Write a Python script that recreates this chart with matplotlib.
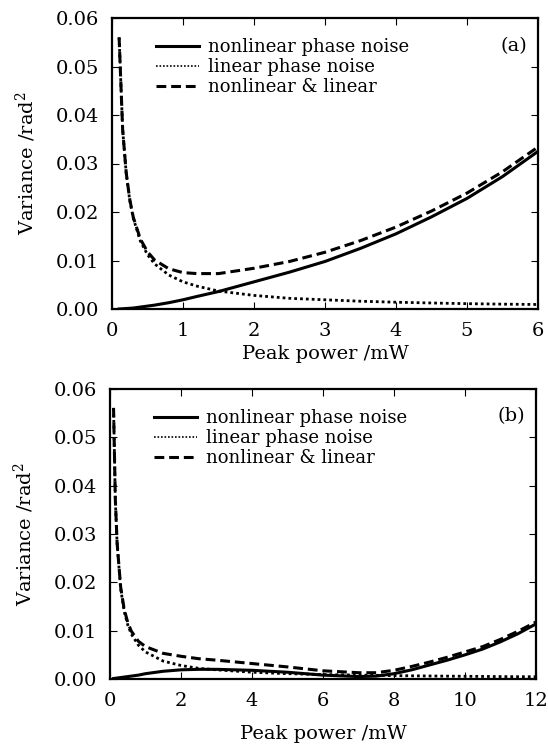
import matplotlib
matplotlib.use("Agg")
import matplotlib.pyplot as plt

plt.rcParams['font.family'] = ['DejaVu Serif']
plt.rcParams['mathtext.fontset'] = 'dejavuserif'

# ---- panel (a) data ----
x_a = [0.1, 0.15, 0.2, 0.25, 0.3, 0.4, 0.5, 0.6, 0.8, 1.0, 1.2, 1.5, 2.0, 2.5, 3.0,
       3.5, 4.0, 4.5, 5.0, 5.5, 6.0]
nonlin_a = [0.0, 0.00005, 0.0001, 0.00015, 0.0002, 0.0004, 0.0006, 0.0008, 0.0013,
            0.0019, 0.0026, 0.0036, 0.0056, 0.0076, 0.0098, 0.0125, 0.0155, 0.0190,
            0.0228, 0.0273, 0.0325]
lin_a = [0.056, 0.037, 0.028, 0.0224, 0.0187, 0.014, 0.0112, 0.0093, 0.007, 0.0056,
         0.0047, 0.0037, 0.0028, 0.0022, 0.0019, 0.0016, 0.0014, 0.00124, 0.0011,
         0.001, 0.00093]
both_a = [0.056, 0.037, 0.0281, 0.0226, 0.0189, 0.0144, 0.0118, 0.0101, 0.0083,
          0.0075, 0.0073, 0.0073, 0.0084, 0.0098, 0.0117, 0.0141, 0.0169, 0.0202,
          0.0239, 0.0283, 0.0334]

# ---- panel (b) data ----
x_b = [0.1, 0.15, 0.2, 0.3, 0.4, 0.5, 0.6, 0.8, 1.0, 1.5, 2.0, 2.5, 3.0, 4.0, 5.0,
       6.0, 7.0, 7.5, 8.0, 8.5, 9.0, 9.5, 10.0, 10.5, 11.0, 11.5, 12.0]
nonlin_b = [0.0001, 0.00015, 0.0002, 0.0003, 0.0004, 0.0005, 0.0006, 0.0008, 0.0011,
            0.0016, 0.0019, 0.0020, 0.0020, 0.0018, 0.0014, 0.0008, 0.0005, 0.0006,
            0.0011, 0.0019, 0.0029, 0.0039, 0.0050, 0.0062, 0.0077, 0.0094, 0.0114]
lin_b = [0.056, 0.037, 0.028, 0.0187, 0.014, 0.0112, 0.0093, 0.007, 0.0056, 0.0037,
         0.0028, 0.0022, 0.0019, 0.0014, 0.0011, 0.00093, 0.0008, 0.00075, 0.0007,
         0.00066, 0.00062, 0.00059, 0.00056, 0.00053, 0.0005, 0.00048, 0.00047]
both_b = [0.0561, 0.0372, 0.0282, 0.019, 0.0144, 0.0117, 0.0099, 0.0078, 0.0067,
          0.0053, 0.0047, 0.0042, 0.0039, 0.0032, 0.0025, 0.0017, 0.0013, 0.0013,
          0.0018, 0.0026, 0.0035, 0.0045, 0.0056, 0.0067, 0.0082, 0.0099, 0.0118]

labels = ['nonlinear phase noise', 'linear phase noise', 'nonlinear & linear']
yticks = [0.00, 0.01, 0.02, 0.03, 0.04, 0.05, 0.06]

fig = plt.figure(figsize=(5.48, 7.47), dpi=100)
W, H = 548, 747
ax_a = fig.add_axes([112 / W, 1 - 309 / H, (538 - 112) / W, (309 - 18) / H])
ax_b = fig.add_axes([110 / W, 1 - 679 / H, (536 - 110) / W, (679 - 389) / H])

panels = [
    (ax_a, x_a, nonlin_a, lin_a, both_a, 6, [0, 1, 2, 3, 4, 5, 6], '(a)', 4),
    (ax_b, x_b, nonlin_b, lin_b, both_b, 12, [0, 2, 4, 6, 8, 10, 12], '(b)', 11),
]

for ax, x, nl, li, bo, xmax, xt, tag, xlp in panels:
    ax.plot(x, nl, color='black', lw=2.2, ls='-', label=labels[0])
    ax.plot(x, li, color='black', lw=2.0, ls=(0, (1, 1.1)), label=labels[1])
    ax.plot(x, bo, color='black', lw=2.2, ls=(0, (3.2, 1.6)), label=labels[2])
    ax.set_xlim(0, xmax)
    ax.set_ylim(0, 0.06)
    ax.set_xticks(xt)
    ax.set_yticks(yticks)
    ax.set_yticklabels([f'{v:.2f}' for v in yticks])
    ax.tick_params(direction='in', top=True, right=True, length=5, width=0.8,
                   labelsize=14, pad=9)
    for s in ax.spines.values():
        s.set_linewidth(1.6)
    ax.set_xlabel('Peak power /mW', fontsize=14, labelpad=xlp)
    ax.set_ylabel('Variance /rad$^2$', fontsize=14, labelpad=13)
    ax.text(0.975, 0.905, tag, transform=ax.transAxes, ha='right', va='center',
            fontsize=14)
    leg = ax.legend(loc='upper left', bbox_to_anchor=(0.086, 0.955), frameon=False,
                    fontsize=13, handlelength=2.4, handletextpad=0.5,
                    labelspacing=0.1, borderaxespad=0)
    leg.get_lines()[1].set_linewidth(1.2)

fig.savefig('out.png', dpi=100)
